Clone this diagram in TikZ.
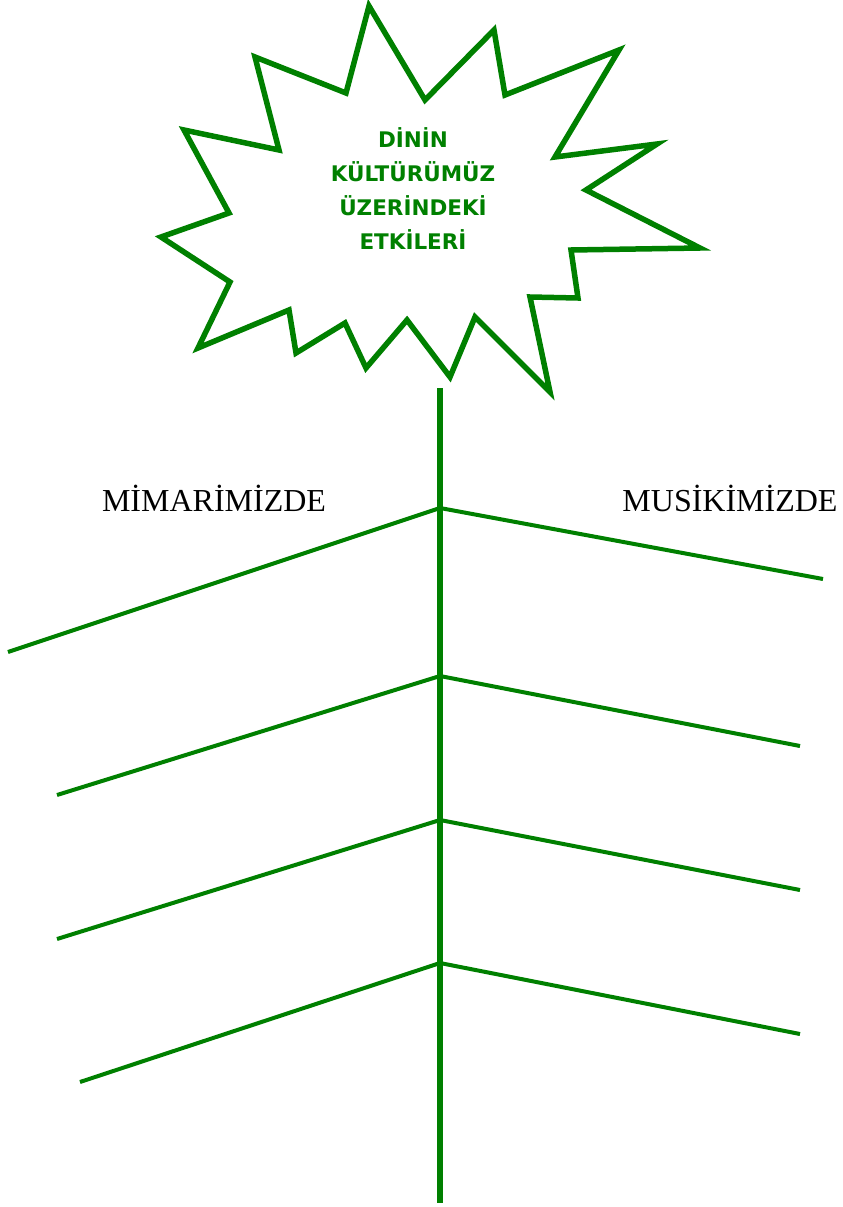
\documentclass[tikz,border=0pt]{standalone}
\usepackage{fontspec}
\setmainfont{Liberation Serif}
\newfontfamily\starfont{DejaVu Sans}
\definecolor{leafgreen}{RGB}{0,128,0}

\begin{document}
\begin{tikzpicture}[
  x=1pt,y=-1pt,
  burst/.style={draw=leafgreen,line width=5.5pt,fill=white},
  spine/.style={draw=leafgreen,line width=6pt},
  branch/.style={draw=leafgreen,line width=4pt},
  theme/.style={text=leafgreen,font=\starfont\bfseries\fontsize{21.5}{34}\selectfont,align=center},
  heading/.style={font=\fontsize{32}{38}\selectfont,anchor=base}
]
\useasboundingbox (0,0) rectangle (843,1207);

% the burst with the theme
\draw[burst] (369,6) -- (425,100) -- (494,30) -- (505,95) -- (619,50)
  -- (555,157) -- (657,144) -- (586,190) -- (700,248) -- (571,250)
  -- (578,298) -- (530,297) -- (550,392) -- (475,317) -- (450,377)
  -- (407,320) -- (366,368) -- (345,323) -- (296,353) -- (289,310)
  -- (198,348) -- (230,282) -- (161,237) -- (229,213) -- (184,130)
  -- (279,150) -- (255,57) -- (346,93) -- cycle;
\node[theme] (theme) at (413,189) {DİNİN\\KÜLTÜRÜMÜZ\\ÜZERİNDEKİ\\ETKİLERİ};

% spine
\coordinate (top) at (440,388);
\coordinate (bottom) at (440,1203);
\draw[spine] (top) -- (bottom);

% branches
\foreach \i/\y/\lx/\ly/\rx/\ry in {1/508/8/652/823/579, 2/676/57/795/800/746,
    3/820/57/939/800/890, 4/963/80/1082/800/1034} {
  \coordinate (j\i) at (440,\y);
  \coordinate (l\i) at (\lx,\ly);
  \coordinate (r\i) at (\rx,\ry);
  \draw[branch] (l\i) -- (j\i) -- (r\i);
}

% headings
\node[heading] (mimari) at (214,511) {MİMARİMİZDE};
\node[heading] (musiki) at (730,511) {MUSİKİMİZDE};
\end{tikzpicture}
\end{document}
